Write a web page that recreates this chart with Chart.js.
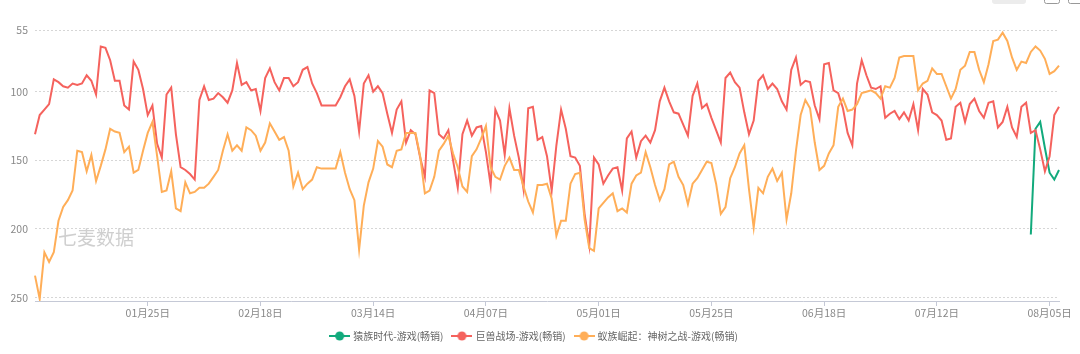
<!DOCTYPE html>
<html>
<head>
<meta charset="utf-8">
<script src="https://cdn.jsdelivr.net/npm/chart.js@4.4.0/dist/chart.umd.min.js"></script>
<style>
html,body{margin:0;padding:0;background:#fff;}
#wrap{width:1080px;height:354px;position:relative;}
</style>
</head>
<body>
<div id="wrap"><canvas id="c"></canvas></div>
<script>
// ---- data ----
const startDate = [2023, 1, 1];
const dayCount = 219;
const tickLabels = ['01月25日','02月18日','03月14日','04月07日','05月01日','05月25日','06月18日','07月12日','08月05日'];
const yTicks = [55, 100, 150, 200, 250];
const seriesNames = ['猿族时代-游戏(畅销)', '巨兽战场-游戏(畅销)', '蚁族崛起：神树之战-游戏(畅销)'];
const seriesColors = ['#12aa7c', '#f5625d', '#ffae58'];

// 猿族时代 (only last days)
const yuanzuTail = [204, 127, 122, 141, 159, 164, 157];

// 巨兽战场
const jushou = [
131,117,113,109,91,93,96,97,94,95,94,88,92,102,67,68,77,92,92,110,113,78,84,98,117,110,138,148,102,97,
131,155,157,160,164,106,96,106,105,101,104,108,99,79,95,93,99,98,114,90,83,93,99,90,90,96,93,84,82,94,
101,110,110,110,110,104,96,91,103,129,94,88,100,96,101,116,130,113,107,137,128,131,148,162,99,101,131,134,128,150,
170,131,121,132,126,125,144,168,113,121,146,112,132,148,171,112,111,135,133,147,172,139,113,127,147,148,154,189,212,148,
153,167,161,156,155,172,134,129,148,136,132,137,128,107,97,107,115,116,124,132,103,94,112,109,119,128,137,90,86,93,
97,115,131,121,92,88,98,94,98,107,113,84,75,95,92,93,110,120,80,79,99,101,112,130,139,94,77,88,97,98,
96,119,116,114,120,115,121,109,128,98,102,115,117,121,135,134,111,108,122,109,105,114,119,108,107,126,122,111,126,133,
111,108,130,128,142,158,147,117,111
];

// 蚁族崛起：神树之战
const yizu = [
234,251,217,224,217,194,184,179,172,143,144,158,146,165,154,142,127,129,130,144,140,159,157,143,130,122,147,173,172,158,
185,187,166,174,173,170,170,167,162,157,143,131,143,139,143,126,128,132,143,137,123,129,135,133,143,169,159,171,167,164,
155,156,156,156,156,144,159,171,179,215,183,166,156,136,140,153,155,143,142,130,130,130,147,174,172,162,143,138,132,145,
155,169,173,147,142,134,125,155,162,164,154,148,157,157,169,180,188,168,168,167,178,205,194,194,167,160,159,193,214,216,
185,181,177,174,187,185,188,167,161,159,144,155,168,179,171,153,151,162,168,182,167,163,157,151,152,167,189,184,163,155,
145,139,171,199,170,174,162,156,165,159,193,174,143,117,106,112,137,157,154,145,139,111,105,114,113,109,101,100,99,101,
105,96,97,90,75,74,74,74,99,94,92,83,87,87,96,105,98,84,81,71,71,84,93,80,63,62,57,63,75,84,
78,79,71,67,70,76,87,85,81
];

// ---- build categories ----
const categories = [];
{
  const d = new Date(startDate[0], startDate[1] - 1, startDate[2]);
  for (let i = 0; i < dayCount; i++) {
    const m = String(d.getMonth() + 1).padStart(2, '0');
    const dd = String(d.getDate()).padStart(2, '0');
    categories.push(m + '月' + dd + '日');
    d.setDate(d.getDate() + 1);
  }
}
const yuanzu = categories.map((_, i) => {
  const k = i - (dayCount - yuanzuTail.length);
  return k >= 0 ? yuanzuTail[k] : null;
});

// ---- helpers ----
const FONT = "'Noto Sans CJK SC', 'Noto Sans', sans-serif";
Chart.defaults.font.family = FONT;

function makeIcon(color) {
  const cv = document.createElement('canvas');
  cv.width = 21; cv.height = 12;
  const g = cv.getContext('2d');
  g.strokeStyle = color; g.lineWidth = 2;
  g.beginPath(); g.moveTo(0, 6); g.lineTo(21, 6); g.stroke();
  g.fillStyle = color;
  g.beginPath(); g.arc(10.5, 6, 4.5, 0, Math.PI * 2); g.fill();
  return cv;
}
const icons = seriesColors.map(makeIcon);

const axisColor = '#c5c9d6';

const extrasPlugin = {
  id: 'extras',
  beforeInit(chart) {
    const orig = chart.legend.fit;
    chart.legend.fit = function () { orig.bind(chart.legend)(); this.height = 33; };
  },
  beforeDatasetsDraw(chart) {
    const ctx = chart.ctx;
    ctx.save();
    ctx.font = '19px ' + FONT;
    ctx.fillStyle = 'rgba(160,160,160,0.5)';
    ctx.textBaseline = 'middle';
    ctx.fillText('七麦数据', 58, 238);
    ctx.restore();
  },
  afterDraw(chart) {
    const ctx = chart.ctx;
    ctx.save();
    ctx.fillStyle = '#ececec';
    ctx.beginPath(); ctx.roundRect(992, -6, 34, 10, 3); ctx.fill();
    ctx.strokeStyle = '#999'; ctx.lineWidth = 1;
    ctx.beginPath(); ctx.roundRect(1044.5, -6.5, 15, 10, 2); ctx.stroke();
    ctx.beginPath(); ctx.roundRect(1068.5, -6.5, 15, 10, 2); ctx.stroke();
    ctx.restore();
  }
};

const drawOrder = [2, 1, 0];
const datasets = [yuanzu, jushou, yizu].map((arr, k) => ({
  label: seriesNames[k],
  data: arr,
  order: drawOrder[k],
  borderColor: seriesColors[k],
  backgroundColor: seriesColors[k],
  borderWidth: 2,
  pointRadius: 0,
  pointHoverRadius: 0,
  tension: 0,
  fill: false,
  spanGaps: false
}));

new Chart(document.getElementById('c'), {
  type: 'line',
  data: { labels: categories, datasets },
  options: {
    responsive: true,
    maintainAspectRatio: false,
    animation: false,
    layout: { padding: { top: 30, right: 21, left: 10, bottom: 0 } },
    plugins: {
      tooltip: { enabled: false },
      legend: {
        position: 'bottom',
        labels: {
          usePointStyle: true,
          pointStyleWidth: 17,
          padding: 10,
          color: '#666',
          font: { size: 10, family: FONT },
          generateLabels(chart) {
            return chart.data.datasets.map((ds, i) => ({
              text: ds.label,
              fillStyle: ds.borderColor,
              strokeStyle: ds.borderColor,
              lineWidth: 0,
              pointStyle: icons[i],
              hidden: false,
              datasetIndex: i,
              fontColor: '#666'
            }));
          }
        }
      }
    },
    scales: {
      x: {
        type: 'category',
        offset: false,
        afterBuildTicks(scale) {
          scale.ticks = scale.ticks.filter(t => tickLabels.includes(categories[t.value]));
        },
        afterFit(scale) { scale.height = 20; },
        ticks: {
          autoSkip: false,
          maxRotation: 0,
          minRotation: 0,
          padding: 1,
          color: '#888',
          font: { size: 10.5, family: FONT }
        },
        grid: {
          display: true,
          drawOnChartArea: false,
          drawTicks: true,
          tickLength: 5,
          color: axisColor
        },
        border: { display: true, color: axisColor, width: 1 }
      },
      y: {
        reverse: true,
        min: 55,
        max: 252.5,
        afterBuildTicks(scale) {
          scale.ticks = yTicks.map(v => ({ value: v }));
        },
        afterFit(scale) { scale.width = 25; },
        ticks: {
          padding: 7,
          color: '#888',
          font: { size: 10.5, family: FONT }
        },
        grid: {
          display: true,
          drawTicks: false,
          color: '#d6d6d6',
          lineWidth: 1
        },
        border: { display: false, dash: [2, 2] }
      }
    }
  },
  plugins: [extrasPlugin]
});
</script>
</body>
</html>
